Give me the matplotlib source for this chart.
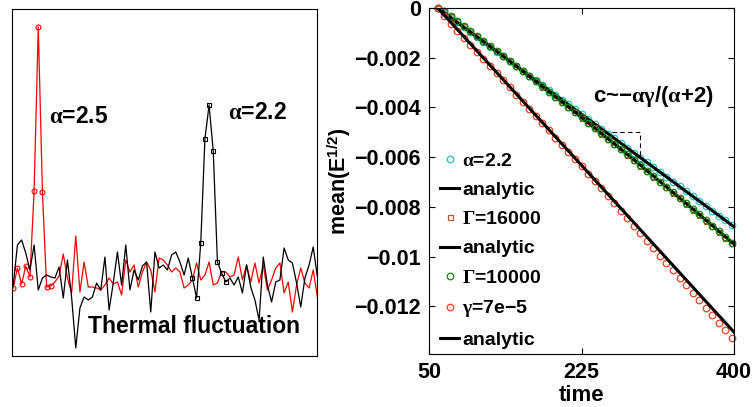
import matplotlib.pyplot as plt
import numpy as np

plt.rcParams['font.family'] = ['Liberation Sans', 'DejaVu Sans']
plt.rcParams['font.weight'] = 'bold'
plt.rcParams['axes.labelweight'] = 'bold'
plt.rcParams['mathtext.fontset'] = 'custom'
plt.rcParams['mathtext.rm'] = 'Liberation Serif'
plt.rcParams['mathtext.it'] = 'Liberation Serif'
plt.rcParams['mathtext.bf'] = 'Liberation Sans:bold'

# left panel: two noisy traces (arbitrary units), with a peak each
red_sig = [68, 88, 72, 90, 79, 165, 329, 164, 69, 70, 74, 80, 102, 78, 63, 120, 64, 94, 69, 69,
           68, 66, 71, 78, 72, 74, 61, 96, 84, 91, 69, 84, 94, 86, 64, 98, 96, 91, 84, 88,
           84, 68, 71, 76, 93, 76, 81, 94, 71, 73, 84, 84, 79, 81, 99, 76, 91, 74, 93, 73,
           91, 66, 76, 88, 93, 63, 74, 44, 71, 88, 73, 68, 86, 59]
black_sig = [71, 111, 116, 103, 86, 111, 66, 78, 81, 79, 78, 89, 58, 96, 59, 8, 48, 59, 56, 59,
             73, 66, 99, 46, 73, 104, 71, 111, 66, 86, 76, 90, 94, 44, 104, 88, 91, 86, 101, 104,
             94, 81, 98, 78, 58, 113, 217, 251, 205, 94, 83, 74, 78, 71, 79, 63, 91, 69, 56, 36,
             99, 71, 54, 74, 76, 108, 96, 93, 73, 49, 78, 91, 109, 79]
red_peak = list(range(0, 10))
black_peak = list(range(43, 52))

# right panel
time = [60, 67.5, 75, 82.5, 90, 97.5, 105, 112.5, 120, 127.5, 135, 142.5, 150, 157.5, 165,
        172.5, 180, 187.5, 195, 202.5, 210, 217.5, 225, 232.5, 240, 247.5, 255, 262.5, 270,
        277.5, 285, 292.5, 300, 307.5, 315, 322.5, 330, 337.5, 345, 352.5, 360, 367.5, 375,
        382.5, 390, 397.5]
alpha22 = [0, -0.00019, -0.00039, -0.00058, -0.00078, -0.00097, -0.00116, -0.00136, -0.00155,
           -0.00175, -0.00194, -0.00214, -0.00233, -0.00252, -0.00272, -0.00291, -0.00311,
           -0.00330, -0.00349, -0.00369, -0.00388, -0.00408, -0.00427, -0.00446, -0.00466,
           -0.00485, -0.00505, -0.00524, -0.00544, -0.00563, -0.00582, -0.00602, -0.00621,
           -0.00641, -0.00660, -0.00679, -0.00699, -0.00718, -0.00738, -0.00757, -0.00776,
           -0.00796, -0.00815, -0.00835, -0.00854, -0.00874]
g10000 = [0, -0.00014, -0.00034, -0.00053, -0.00074, -0.00093, -0.00112, -0.00133, -0.00152,
          -0.00173, -0.00193, -0.00213, -0.00233, -0.00253, -0.00274, -0.00294, -0.00315,
          -0.00336, -0.00356, -0.00377, -0.00398, -0.00419, -0.00440, -0.00461, -0.00482,
          -0.00503, -0.00525, -0.00546, -0.00568, -0.00589, -0.00610, -0.00633, -0.00654,
          -0.00676, -0.00698, -0.00719, -0.00742, -0.00764, -0.00786, -0.00808, -0.00830,
          -0.00853, -0.00875, -0.00898, -0.00921, -0.00944]
g16000 = [0, -0.00014, -0.00034, -0.00053, -0.00074, -0.00093, -0.00113, -0.00133, -0.00153,
          -0.00173, -0.00193, -0.00213, -0.00234, -0.00254, -0.00275, -0.00295, -0.00316,
          -0.00337, -0.00357, -0.00378, -0.00399, -0.00420, -0.00441, -0.00462, -0.00483,
          -0.00505, -0.00526, -0.00548, -0.00569, -0.00591, -0.00612, -0.00635, -0.00656,
          -0.00678, -0.00700, -0.00722, -0.00744, -0.00766, -0.00789, -0.00811, -0.00833,
          -0.00856, -0.00878, -0.00901, -0.00924, -0.00947]
gamma7e5 = [0, -0.00034, -0.00063, -0.00091, -0.00120, -0.00149, -0.00178, -0.00206, -0.00235,
            -0.00262, -0.00291, -0.00319, -0.00348, -0.00377, -0.00406, -0.00435, -0.00463,
            -0.00492, -0.00521, -0.00550, -0.00578, -0.00607, -0.00636, -0.00667, -0.00696,
            -0.00726, -0.00756, -0.00786, -0.00816, -0.00846, -0.00876, -0.00906, -0.00936,
            -0.00966, -0.00996, -0.01026, -0.01056, -0.01086, -0.01116, -0.01146, -0.01176,
            -0.01206, -0.01236, -0.01266, -0.01296, -0.01326]
an1_t = [60, 400]
an1_v = [0, -0.0088]
an2_t = [60, 135, 210, 285, 360, 400]
an2_v = [0, -0.00193, -0.00398, -0.00610, -0.00830, -0.00950]
an3_t = [60, 400]
an3_v = [0, -0.01304]
slope_t = [260, 292, 292]
slope_v = [-0.005, -0.005, -0.006]
yticks = [0, -0.002, -0.004, -0.006, -0.008, -0.01, -0.012]
ytick_labels = ['0', '\u22120.002', '\u22120.004', '\u22120.006', '\u22120.008', '\u22120.01', '\u22120.012']

fig = plt.figure(figsize=(7.56, 4.07), dpi=100)

# ---- left panel
ax1 = fig.add_axes([0.0159, 0.1253, 0.4034, 0.8526])
idx = np.arange(len(red_sig))
ax1.plot(idx, red_sig, color='red', lw=0.9, marker='o', ms=3.5, mfc='none', mew=0.8,
         markevery=red_peak)
ax1.plot(idx, black_sig, color='black', lw=0.9, marker='s', ms=3, mfc='none', mew=0.8,
         markevery=black_peak)
ax1.set_xlim(-0.3, 72.9)
ax1.set_ylim(0, 347)
ax1.set_xticks([])
ax1.set_yticks([])
ax1.text(0.121, 0.689, r'$\alpha$=2.5', transform=ax1.transAxes, fontsize=16.5,
         va='center', ha='left')
ax1.text(0.708, 0.703, r'$\alpha$=2.2', transform=ax1.transAxes, fontsize=16.5,
         va='center', ha='left')
ax1.text(0.249, 0.0836, 'Thermal fluctuation', transform=ax1.transAxes, fontsize=16.5,
         va='center', ha='left')

# ---- right panel
ax2 = fig.add_axes([0.5675, 0.1302, 0.4034, 0.8501])
mk = dict(ls='none', mfc='none', clip_on=False)
ax2.plot(time, alpha22, marker='o', ms=4.7, mew=0.9, mec='#22c4cc', label=r'$\alpha$=2.2', **mk)
ax2.plot(an1_t, an1_v, color='black', lw=2.2, label='analytic')
ax2.plot(time, g16000, marker='s', ms=3.6, mew=0.9, mec='#b45a2e', label=r'$\Gamma$=16000', **mk)
ax2.plot(an2_t, an2_v, color='black', lw=2.2, label='analytic')
ax2.plot(time, g10000, marker='o', ms=4.7, mew=0.9, mec='#0a8a0a', label=r'$\Gamma$=10000', **mk)
ax2.plot(time, gamma7e5, marker='o', ms=4.7, mew=0.9, mec='#ec4020',
         label='$\\gamma$=7e\u22125', **mk)
ax2.plot(an3_t, an3_v, color='black', lw=2.2, label='analytic')
ax2.plot(slope_t, slope_v, color='black', lw=0.8, ls=(0, (4, 3)))

ax2.set_xlim(50, 400)
ax2.set_ylim(-0.01392, 0)
ax2.set_xticks([50, 225, 400])
ax2.set_yticks(yticks)
ax2.set_yticklabels(ytick_labels)
ax2.tick_params(direction='in', top=True, right=True, length=4, width=0.8,
                labelsize=15.5, pad=6)
ax2.set_xlabel('time', fontsize=16, fontweight='bold', labelpad=1)
ax2.set_ylabel(r'mean(E$^{\mathbf{1/2}}$)', fontsize=15.5, fontweight='bold', labelpad=1)
ax2.text(238, -0.00356, 'c~\u2212$\\alpha\\gamma$/($\\alpha$+2)', fontsize=16,
         va='center', ha='left')

ax2.legend(loc='upper left', bbox_to_anchor=(0.036, 0.584), frameon=False, fontsize=14,
           handlelength=1.0, handletextpad=0.15, labelspacing=0.60, borderpad=0,
           borderaxespad=0, markerscale=1.0)

fig.savefig('out.png', dpi=100)
